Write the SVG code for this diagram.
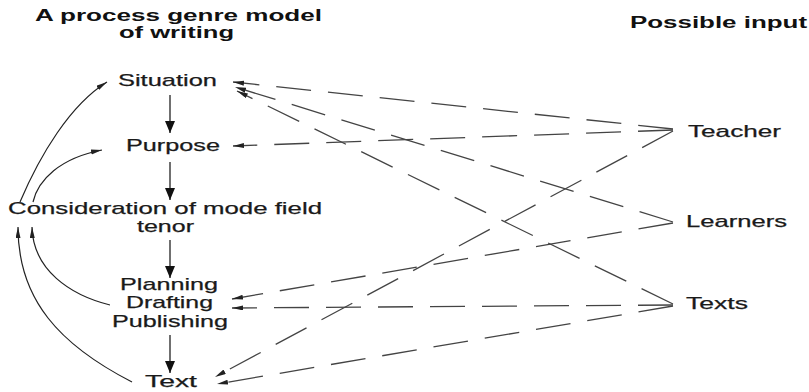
<svg xmlns="http://www.w3.org/2000/svg" width="809" height="392" viewBox="0 0 809 392">
<style>
.t{font-family:"Liberation Sans",Arial,sans-serif;font-size:17px;fill:#1a1a1a;stroke:#1a1a1a;stroke-width:0.25}
.h{font-family:"Liberation Sans",Arial,sans-serif;font-size:16px;font-weight:bold;fill:#111}
.solid{fill:none;stroke:#222;stroke-width:1.3}
.curve{fill:none;stroke:#222;stroke-width:1.2}
.dash{fill:none;stroke:#444;stroke-width:1.3;stroke-dasharray:35 17}
</style>
<defs>
<marker id="big" markerUnits="userSpaceOnUse" markerWidth="13" markerHeight="10" refX="12" refY="5" orient="auto">
<path d="M0,0 L12,5 L0,10 z" fill="#111"/>
</marker>
<marker id="thin" markerUnits="userSpaceOnUse" markerWidth="12" markerHeight="6" refX="11" refY="2.5" orient="auto">
<path d="M0,0 L11,2.5 L0,5 z" fill="#222"/>
</marker>
</defs>
<rect width="809" height="392" fill="#fff"/>
<g id="titles">
<text class="h" x="35" y="21" textLength="287" lengthAdjust="spacingAndGlyphs">A process genre model</text>
<text class="h" x="119" y="38" textLength="115" lengthAdjust="spacingAndGlyphs">of writing</text>
<text class="h" x="630" y="28" textLength="177" lengthAdjust="spacingAndGlyphs">Possible input</text>
</g>
<g id="situation"><text class="t" x="118" y="86" textLength="99" lengthAdjust="spacingAndGlyphs">Situation</text></g>
<g id="purpose"><text class="t" x="126" y="151" textLength="94" lengthAdjust="spacingAndGlyphs">Purpose</text></g>
<g id="consideration">
<text class="t" x="8" y="214" textLength="314" lengthAdjust="spacingAndGlyphs">Consideration of mode field</text>
<text class="t" x="137" y="232" textLength="57" lengthAdjust="spacingAndGlyphs">tenor</text>
</g>
<g id="process">
<text class="t" x="120" y="290" textLength="98" lengthAdjust="spacingAndGlyphs">Planning</text>
<text class="t" x="126" y="308" textLength="87" lengthAdjust="spacingAndGlyphs">Drafting</text>
<text class="t" x="112" y="327" textLength="116" lengthAdjust="spacingAndGlyphs">Publishing</text>
</g>
<g id="text"><text class="t" x="145" y="387" textLength="52" lengthAdjust="spacingAndGlyphs">Text</text></g>
<g id="teacher"><text class="t" x="688" y="137" textLength="93" lengthAdjust="spacingAndGlyphs">Teacher</text></g>
<g id="learners"><text class="t" x="686" y="227" textLength="101" lengthAdjust="spacingAndGlyphs">Learners</text></g>
<g id="texts"><text class="t" x="686" y="309" textLength="62" lengthAdjust="spacingAndGlyphs">Texts</text></g>
<g id="connectors">
<line class="solid" x1="170" y1="95" x2="170" y2="133" marker-end="url(#big)"/>
<line class="solid" x1="170" y1="162" x2="170" y2="200" marker-end="url(#big)"/>
<line class="solid" x1="170" y1="240" x2="170" y2="278" marker-end="url(#big)"/>
<line class="solid" x1="170" y1="335" x2="170" y2="373" marker-end="url(#big)"/>
<path class="curve" d="M20,202 C40,155 70,105 107,82" marker-end="url(#thin)"/>
<path class="curve" d="M33,202 C38,180 60,158 102,150" marker-end="url(#thin)"/>
<path class="curve" d="M132,382 C60,345 18,300 18,227" marker-end="url(#thin)"/>
<path class="curve" d="M110,305 C70,295 33,270 32,227" marker-end="url(#thin)"/>
<path class="dash" d="M673,129 L233,82" marker-end="url(#thin)"/>
<path class="dash" d="M673,130 L233,146" marker-end="url(#thin)"/>
<path class="dash" d="M673,131 L215,377" marker-end="url(#thin)"/>
<path class="dash" d="M673,222 L235,87" marker-end="url(#thin)"/>
<path class="dash" d="M673,223 L232,299" marker-end="url(#thin)"/>
<path class="dash" d="M673,304 L237,91" marker-end="url(#thin)"/>
<path class="dash" d="M673,305 L232,308" marker-end="url(#thin)"/>
<path class="dash" d="M673,306 L217,384" marker-end="url(#thin)"/>
</g>
</svg>
